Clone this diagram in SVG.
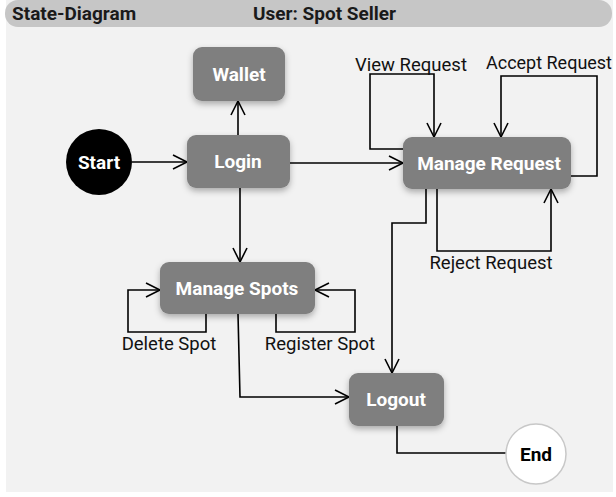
<svg xmlns="http://www.w3.org/2000/svg" width="616" height="497" viewBox="0 0 616 497">
<style>
.node{fill:#7f7f7f;filter:url(#sh)}
.nt{font-family:Roboto,"Liberation Sans",sans-serif;font-weight:bold;font-size:19px;fill:#fff;text-anchor:middle;dominant-baseline:central}
.lbl{font-family:Roboto,"Liberation Sans",sans-serif;font-size:18.5px;fill:#111;text-anchor:middle}
.hd{font-family:Roboto,"Liberation Sans",sans-serif;font-weight:bold;font-size:19px;fill:#1a1a1a}
.c{fill:none;stroke:#000;stroke-width:1.6}
.a{marker-end:url(#ah)}
</style>
<defs>
<marker id="ah" markerUnits="userSpaceOnUse" viewBox="-16 -9 18 18" refX="0" refY="0" markerWidth="18" markerHeight="18" orient="auto">
<path d="M-14,-7 L0,0 L-14,7" fill="none" stroke="#000" stroke-width="1.6"/>
</marker>
<filter id="sh" x="-20%" y="-20%" width="140%" height="160%">
<feDropShadow dx="0" dy="3" stdDeviation="3" flood-color="#000" flood-opacity="0.3"/>
</filter>
</defs>
<rect x="6" y="0" width="607" height="492" fill="#f2f2f2"/>
<rect x="5" y="0" width="607" height="27" rx="13" fill="#c6c6c6"/>
<text class="hd" x="12" y="20">State-Diagram</text>
<text class="hd" x="253" y="20">User: Spot Seller</text>

<g id="connectors">
<path class="c a" d="M132,162 L187,162"/>
<path class="c a" d="M238,135 L238,101"/>
<path class="c a" d="M290,163 L403,163"/>
<path class="c a" d="M240,188 L240,262"/>
<path class="c a" d="M403,149 L370,149 L370,74 L434,74 L434,137"/>
<path class="c a" d="M571,176 L597,176 L597,76 L501,76 L501,137"/>
<path class="c a" d="M437,189 L437,251 L551,251 L551,189"/>
<path class="c a" d="M426,189 L426,223 L392,223 L392,373"/>
<path class="c a" d="M238,314 L240,397 L349,397"/>
<path class="c a" d="M206,314 L206,332 L128,332 L128,290 L160,290"/>
<path class="c a" d="M276,314 L276,332 L355,332 L355,290 L315,290"/>
<path class="c" d="M397,426 L397,453 L506,453"/>
</g>
<text class="lbl" x="411" y="71">View Request</text>
<text class="lbl" x="486" y="69" textLength="126" lengthAdjust="spacingAndGlyphs" style="text-anchor:start">Accept Request</text>
<text class="lbl" x="491" y="269">Reject Request</text>
<text class="lbl" x="169" y="350">Delete Spot</text>
<text class="lbl" x="320" y="350">Register Spot</text>

<g id="start"><circle cx="99" cy="162" r="33" fill="#000"/><text class="nt" x="99" y="162">Start</text></g>
<g id="wallet"><rect class="node" x="193" y="47" width="92" height="54" rx="9"/><text class="nt" x="239" y="74">Wallet</text></g>
<g id="login"><rect class="node" x="187" y="135" width="103" height="53" rx="9"/><text class="nt" x="238" y="161">Login</text></g>
<g id="manage-request"><rect class="node" x="403" y="137" width="168" height="52" rx="9"/><text class="nt" x="489" y="163">Manage Request</text></g>
<g id="manage-spots"><rect class="node" x="160" y="262" width="155" height="52" rx="9"/><text class="nt" x="237" y="288">Manage Spots</text></g>
<g id="logout"><rect class="node" x="349" y="373" width="95" height="53" rx="9"/><text class="nt" x="396" y="399">Logout</text></g>
<g id="end"><circle cx="536" cy="454" r="30" fill="#fff" stroke="#c8c8c8" stroke-width="1.5"/><text class="nt" x="536" y="454" style="fill:#000">End</text></g>
</svg>
